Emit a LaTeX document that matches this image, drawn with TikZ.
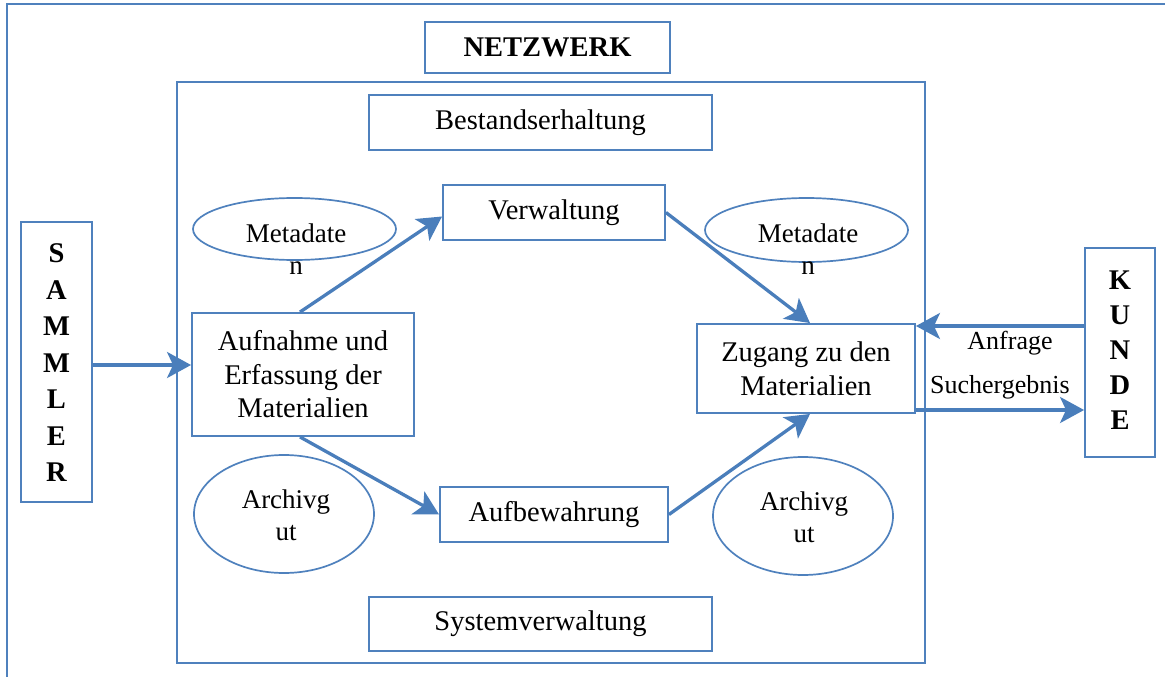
\documentclass[tikz,border=0pt]{standalone}
\usepackage{fontspec}
\setmainfont{Liberation Serif}
\usetikzlibrary{shapes.geometric,arrows.meta}
\definecolor{frame}{HTML}{4F81BD}
\definecolor{arrowc}{HTML}{4A7EBB}
\begin{document}
\begin{tikzpicture}[x=1pt,y=-1pt,
  box/.style={draw=frame,line width=1.9pt,rectangle,inner sep=0pt,align=center,
    font=\fontsize{28.5}{33.5}\selectfont},
  oval/.style={draw=frame,line width=1.7pt,ellipse,inner sep=0pt},
  ovaltext/.style={align=center,inner sep=0pt,font=\fontsize{27}{32}\selectfont},
  lbl/.style={inner sep=0pt,font=\fontsize{26}{30}\selectfont},
  conn/.style={draw=arrowc,line width=3.3pt,-{Stealth[length=24pt,width=26pt,inset=6pt]}},
  vert/.style={align=center,font=\fontsize{28.5}{36.5}\selectfont\bfseries}]
\useasboundingbox (0,0) rectangle (1165,677);
% outer frame (only top and left edges visible)
\draw[frame,line width=2pt] (1165,4) -- (7,4) -- (7,677);

\node[box,minimum width=245pt,minimum height=51pt,font=\fontsize{28.5}{33.5}\selectfont\bfseries] (netzwerk) at (547.5,47.5) {NETZWERK};
\node[box,minimum width=748pt,minimum height=581pt] (netz) at (551,372.5) {};
\node[box,minimum width=343pt,minimum height=55pt] (bestand) at (540.5,122.5) {Bestandserhaltung};
\node[box,minimum width=222pt,minimum height=55pt] (verw) at (554,212.5) {Verwaltung};
\node[box,minimum width=222pt,minimum height=123pt] (aufn) at (303,374.5) {Aufnahme und\\Erfassung der\\Materialien};
\node[box,minimum width=218pt,minimum height=89pt] (zugang) at (806,368.5) {Zugang zu den\\Materialien};
\node[box,minimum width=228pt,minimum height=55pt] (aufbew) at (554,514.5) {Aufbewahrung};
\node[box,minimum width=343pt,minimum height=54pt] (system) at (540.5,624) {Systemverwaltung};
\node[box,minimum width=71pt,minimum height=280pt] (sammler) at (56.5,362) {};
\node[vert] (sammlertext) at (56.5,363) {S\\A\\M\\M\\L\\E\\R};
\node[box,minimum width=70pt,minimum height=209pt] (kunde) at (1120,352.5) {};
\node[vert,font=\fontsize{28.5}{35}\selectfont\bfseries] (kundetext) at (1120,350) {K\\U\\N\\D\\E};

\node[oval,minimum width=203pt,minimum height=62pt] (meta1) at (294.5,229) {};
\node[ovaltext] (meta1t) at (296,249) {Metadate\\n};
\node[oval,minimum width=203pt,minimum height=64pt] (meta2) at (806.5,230) {};
\node[ovaltext] (meta2t) at (808,249) {Metadate\\n};
\node[oval,minimum width=180pt,minimum height=118pt] (arch1) at (284,514) {};
\node[ovaltext] (arch1t) at (286,515) {Archivg\\ut};
\node[oval,minimum width=180pt,minimum height=118pt] (arch2) at (803,516) {};
\node[ovaltext] (arch2t) at (804,517) {Archivg\\ut};

\draw[conn] ([yshift=-3pt]sammler.east) -- ([yshift=-3pt]sammler.east -| aufn.west);
\draw[conn] ([xshift=-3pt]aufn.north) -- ([yshift=-4pt]verw.west);
\draw[conn] (verw.east) -- ([xshift=4pt]zugang.north);
\draw[conn] ([xshift=-3pt]aufn.south) -- (aufbew.west);
\draw[conn] (aufbew.east) -- ([xshift=4pt]zugang.south);
\coordinate (anf) at (1000,326);
\coordinate (such) at (1000,410);
\draw[conn] (kunde.west |- anf) -- (zugang.east |- anf);
\draw[conn] (zugang.east |- such) -- (kunde.west |- such);
\node[lbl] (anfl) at (1010,343) {Anfrage};
\node[lbl] (suchl) at (1000,387) {Suchergebnis};
\end{tikzpicture}
\end{document}
